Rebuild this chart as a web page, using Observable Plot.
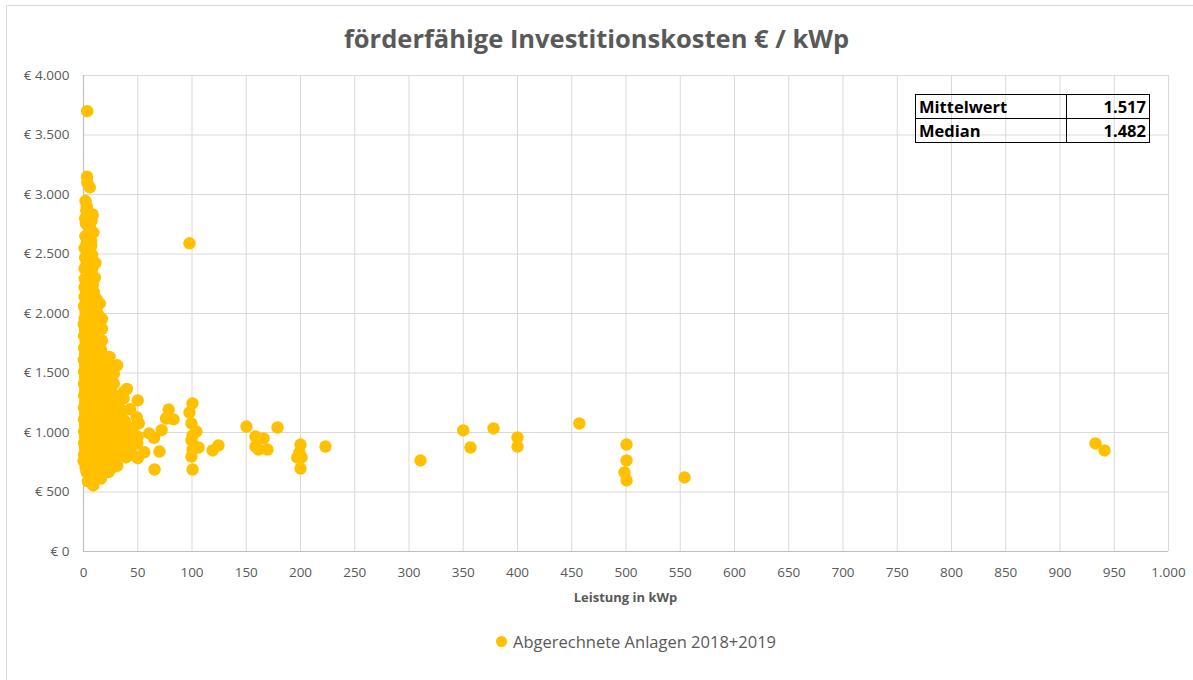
<!DOCTYPE html>
<html><head><meta charset="utf-8">
<script src="https://cdn.jsdelivr.net/npm/d3@7"></script>
<script src="https://cdn.jsdelivr.net/npm/@observablehq/plot@0.6"></script>
<style>
html,body{margin:0;padding:0;width:1193px;height:680px;overflow:hidden;background:#fff;font-family:"Open Sans",sans-serif;}
#frame{position:absolute;left:6px;top:5px;width:1200px;height:700px;border:1px solid #d9d9d9;}
#title{position:absolute;left:0;top:21px;width:1193px;text-align:center;font-size:25.5px;font-weight:700;color:#595959;}
#chart{position:absolute;left:0;top:60px;}
#xlabel{position:absolute;left:83px;width:1085px;top:588px;text-align:center;font-size:13px;font-weight:700;color:#595959;}
#legend{position:absolute;left:496px;top:630px;white-space:nowrap;font-size:16.5px;color:#595959;}
#legend .dot{display:inline-block;width:11px;height:11px;border-radius:50%;background:#FFC000;margin-right:6px;vertical-align:1px;}
#stats{position:absolute;left:915px;top:94px;border-collapse:collapse;font-size:16.5px;font-weight:700;color:#000;}
#stats td{border:1.5px solid #000;height:23px;padding:0 3px;line-height:23px;}
#stats td.l{width:144px;text-align:left;}
#stats td.v{width:76px;text-align:right;}
</style></head>
<body>
<div id="frame"></div>
<div id="title"></div>
<div id="chart"></div>
<div id="xlabel">Leistung in kWp</div>
<div id="legend"><span class="dot"></span><span id="legtext"></span></div>
<table id="stats"></table>
<script>
const titleText = "förderfähige Investitionskosten € / kWp";
const seriesName = "Abgerechnete Anlagen 2018+2019";
const statLabels = ["Mittelwert", "Median"];
const statValues = [1517, 1482];
const xTicks = [0,50,100,150,200,250,300,350,400,450,500,550,600,650,700,750,800,850,900,950,1000];
const yTicks = [0,500,1000,1500,2000,2500,3000,3500,4000];

// [Leistung kWp, Kosten €/kWp]
const anlagenSpitze = [
[3.4,3700],[3.2,3150],[3.5,3100],[5.8,3060],[1.8,2945],[3.0,2900],[2.5,2865],[8.5,2830],[5,2850],[1.5,2800],
[4.5,2790],[7.5,2780],[2.2,2755],[6,2720],[9,2680],[1.8,2650],[4.2,2640],[7,2610],[3,2590],[7.2,2570],
[1,2550],[5,2530],[3.5,2505],[8,2490],[1.5,2470],[6,2450],[11,2425],[3,2420],[9,2400],[1,2380],
[5,2370],[7.5,2350],[3,2330],[10.5,2300],[1.2,2290],[6,2280],[4,2260],[8.5,2240],[1,2220],[5.5,2210],
[2.5,2190],[9.5,2180],[7,2160],[1,2140],[4,2130],[12,2120],[6.5,2110],[15,2085],[2,2090],[9,2080]
];
const anlagenMitte = [
[0.5,2060],[4,2050],[8,2040],[12,2030],[2,2010],[6,2000],[10,1990],[14,1985],[1,1960],[4.5,1950],
[8.5,1945],[17,1955],[12.5,1935],[0.3,1910],[3,1900],[6.5,1895],[10,1890],[14,1880],[1.5,1860],[5,1850],
[9,1845],[13,1840],[17,1870],[0.5,1810],[4,1800],[7.5,1795],[11,1790],[15,1785],[2,1760],[6,1750],
[10,1745],[13.5,1740],[17,1772],[0.5,1710],[4,1700],[8,1695],[12,1690],[16,1700],[1.5,1660],[5.5,1650],
[9.5,1645],[13,1640],[17,1655],[24,1635],[0.3,1610],[3.5,1600],[7,1595],[11,1590],[15,1600],[19,1610],
[1.5,1560],[5,1550],[9,1545],[13,1540],[17,1550],[21,1570],[31,1565],[0.5,1510],[4,1500],[8,1495],
[12,1490],[16,1500],[20,1510],[24,1520],[28,1495]
];
const anlagenUnten = [
[1.5,1460],[5,1450],[9,1445],[13,1440],[17,1450],[21,1455],[25,1445],[0.5,1410],[4,1400],[8,1395],
[12,1390],[16,1400],[20,1405],[24,1400],[28,1410],[1.5,1360],[5.5,1350],[9.5,1345],[13.5,1340],[17.5,1350],
[21.5,1355],[25.5,1345],[40,1367],[37,1340],[0.5,1310],[4,1300],[8,1295],[12,1290],[16,1300],[20,1305],
[24,1300],[29,1310],[33,1295],[37,1286],[50,1270],[1.5,1260],[5.5,1250],[9.5,1245],[13.5,1240],[17.5,1250],
[21.5,1255],[25.5,1245],[30,1240],[0.5,1210],[4,1200],[8,1195],[12,1190],[16,1200],[20,1205],[24,1200],
[28,1195],[33,1210],[43,1195],[1.5,1160],[5.5,1150],[9.5,1145],[13.5,1140],[17.5,1150],[21.5,1155],[25.5,1145],
[30,1150],[35,1140],[49,1128],[0.5,1110],[4,1100],[8,1095],[12,1090],[16,1100],[20,1105],[24,1100],
[28,1095],[32,1105],[38,1095],[1.5,1060],[5.5,1050],[9.5,1045],[13.5,1040],[17.5,1050],[21.5,1055],[25.5,1045],
[30,1050],[36,1060],[42,1045],[51,1076],[0.5,1010],[4,1000],[8,995],[12,990],[16,1000],[20,1005],
[24,1000],[28,995],[33,1010],[39,1000],[45,1010],[50,965]
];
const anlagenBoden = [
[1.5,960],[5.5,950],[9.5,945],[13.5,940],[17.5,950],[21.5,955],[25.5,945],[30,950],[35,940],[41,955],
[46,945],[0.5,910],[4,900],[8,895],[12,890],[16,900],[20,905],[24,900],[28,895],[33,905],
[38,900],[44,890],[49.5,908],[1.5,860],[5.5,850],[9.5,845],[13.5,840],[17.5,850],[21.5,855],[25.5,845],
[30,860],[36,850],[42,840],[56,834],[0.5,810],[4,800],[8,795],[12,790],[16,800],[20,805],
[24,790],[28,780],[34,810],[40,800],[45,815],[50,784],[0,760],[4,750],[8,745],[13,740],
[18,750],[23,755],[28,740],[31,720],[39,790],[2,700],[6,690],[10,710],[15,695],[21,690],
[26,700],[23,667],[3,665],[8,650],[16,612],[9,555],[4,590],[12,630],[1,750]
];
const anlagenMittelgross = [
[60.5,992],[65,955],[72,1020],[78.5,1193],[76,1118],[83,1110],[70,840],[65.5,689],
[97.7,2590],[100.4,1244],[97.7,1168],[99.5,1076],[104,1008],[100.5,975],[99.5,933],[106,874],[100.5,857],[99.5,798],
[100.5,689],[119,849],[124.4,891],[150.2,1050],[158.5,966],[166,950],[178.8,1042],[158.5,882],[161.3,857],[169.6,857],
[200,899],[199,832],[197,790],[201,790],[200,697],[223,882]
];
const anlagenGross = [
[310.6,765],[350,1017],[356.7,874],[377.9,1034],[400,958],[400,882],[457,1076],[500.5,899],[500.5,765],[498.6,664],
[500.5,597],[553.9,622],[932.7,908],[941,849]
];

const data = [...anlagenSpitze, ...anlagenMitte, ...anlagenUnten, ...anlagenBoden, ...anlagenMittelgross, ...anlagenGross]
  .map(([x, y]) => ({leistung: x, kosten: y}));

const de = d3.formatLocale({decimal: ",", thousands: ".", grouping: [3], currency: ["€ ", ""]});
const fmt = de.format(",");

document.getElementById("title").textContent = titleText;
document.getElementById("legtext").textContent = seriesName;
const tbl = document.getElementById("stats");
statLabels.forEach((l, i) => {
  const tr = document.createElement("tr");
  tr.innerHTML = `<td class="l"></td><td class="v"></td>`;
  tr.children[0].textContent = l;
  tr.children[1].textContent = fmt(statValues[i]);
  tbl.appendChild(tr);
});

const chart = Plot.plot({
  width: 1193,
  height: 551,
  marginTop: 15,
  marginLeft: 83,
  marginRight: 25,
  marginBottom: 60,
  style: {fontFamily: "'Open Sans', sans-serif", fontSize: "13.5px", color: "#595959", background: "transparent"},
  x: {domain: [0, 1000], label: null},
  y: {domain: [0, 4000], label: null},
  marks: [
    Plot.gridX(xTicks, {stroke: "#d9d9d9", strokeOpacity: 1, strokeWidth: 1}),
    Plot.gridY(yTicks, {stroke: "#d9d9d9", strokeOpacity: 1, strokeWidth: 1}),
    Plot.ruleY([0], {stroke: "#bfbfbf", strokeWidth: 1.2}),
    Plot.ruleX([0], {stroke: "#bfbfbf", strokeWidth: 1.2}),
    Plot.axisX(xTicks, {tickSize: 0, tickPadding: 16, tickFormat: fmt, fill: "#595959", label: null}),
    Plot.axisY(yTicks, {tickSize: 0, tickPadding: 14, tickFormat: d => "€ " + fmt(d), fill: "#595959", label: null}),
    Plot.dot(data, {x: "leistung", y: "kosten", r: 6.2, fill: "#FFC000", stroke: "none"})
  ]
});
document.getElementById("chart").appendChild(chart);
</script>
</body></html>
